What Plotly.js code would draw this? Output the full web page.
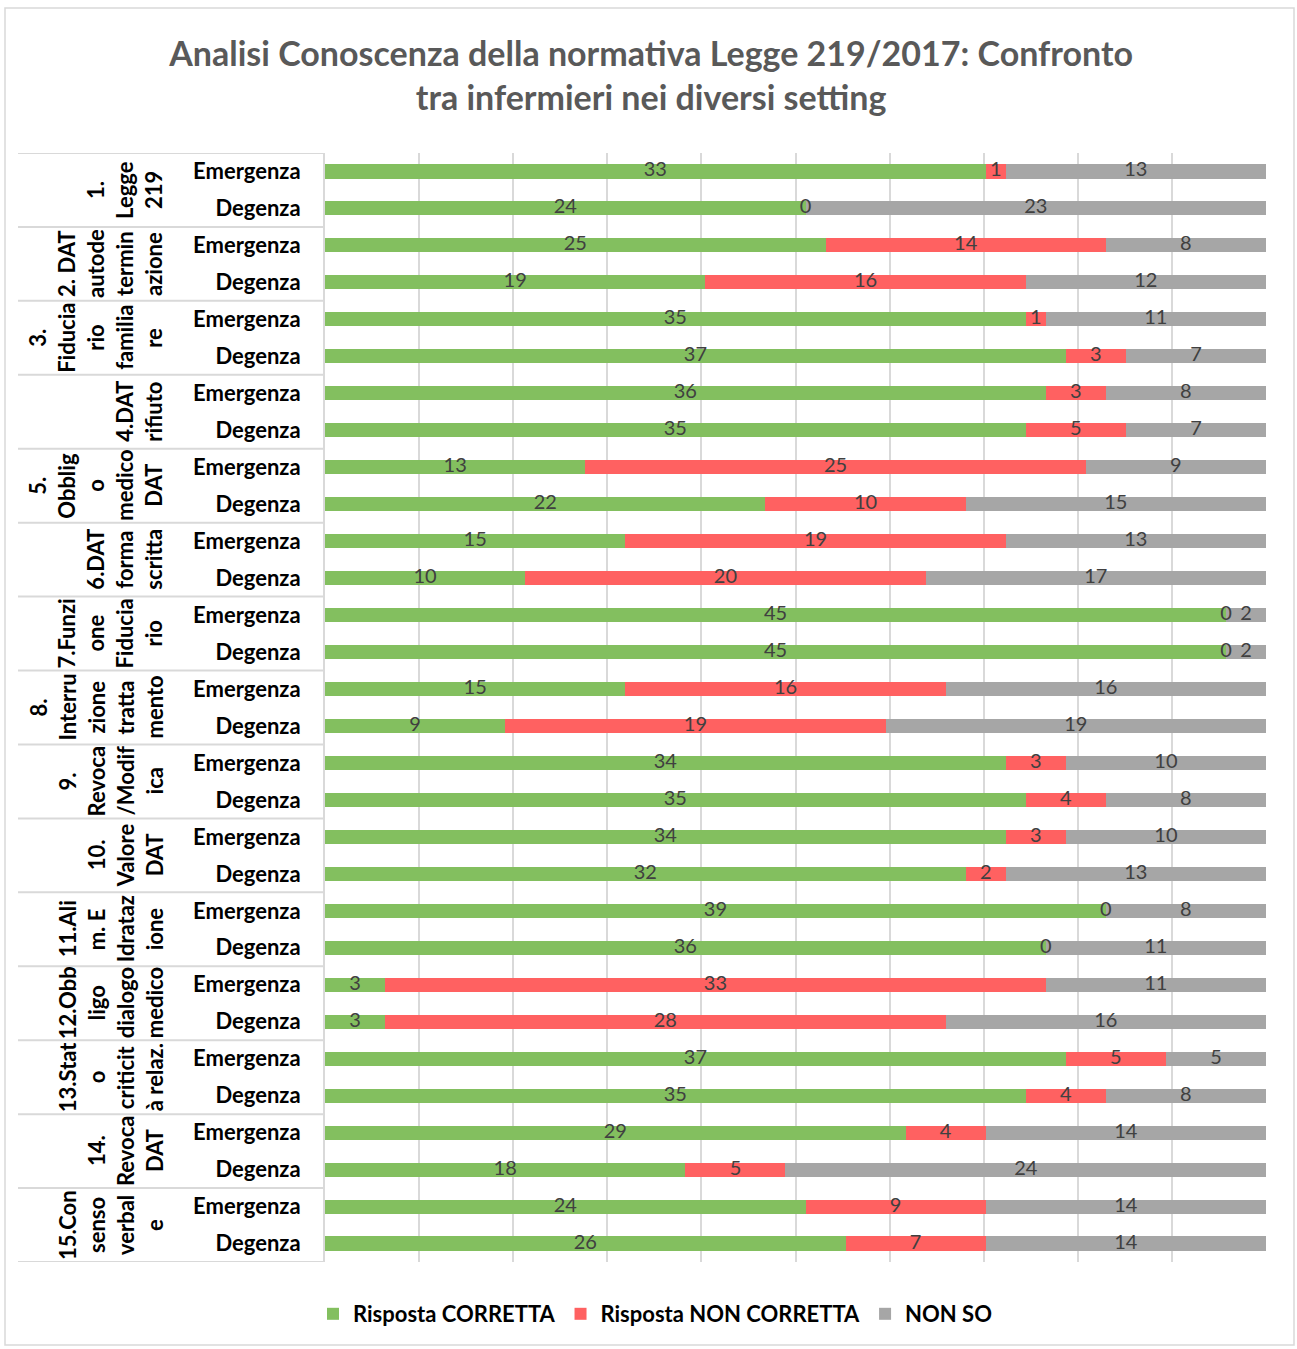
<!DOCTYPE html>
<html>
<head>
<meta charset="utf-8">
<script src="https://cdn.plot.ly/plotly-3.0.1.min.js"></script>
<style>
  html, body { margin: 0; padding: 0; background: #ffffff; }
  #chart { width: 1297px; height: 1349px; }
</style>
</head>
<body>
<div id="chart"></div>
<script>
// ---- Data ----
const groupLines = [
  ["1.", "Legge", "219"],
  ["2. DAT", "autode", "termin", "azione"],
  ["3.", "Fiducia", "rio", "familia", "re"],
  ["4.DAT", "rifiuto"],
  ["5.", "Obblig", "o", "medico", "DAT"],
  ["6.DAT", "forma", "scritta"],
  ["7.Funzi", "one", "Fiducia", "rio"],
  ["8.", "Interru", "zione", "tratta", "mento"],
  ["9.", "Revoca", "/Modif", "ica"],
  ["10.", "Valore", "DAT"],
  ["11.Ali", "m. E", "Idrataz", "ione"],
  ["12.Obb", "ligo", "dialogo", "medico"],
  ["13.Stat", "o", "criticit", "à relaz."],
  ["14.", "Revoca", "DAT"],
  ["15.Con", "senso", "verbal", "e"]
];
const settings = ["Emergenza", "Degenza"];
const seriesNames = ["Risposta CORRETTA", "Risposta NON CORRETTA", "NON SO"];
// one value per row: group 1 Emergenza, group 1 Degenza, group 2 Emergenza, ...
const corretta = [33,24, 25,19, 35,37, 36,35, 13,22, 15,10, 45,45, 15,9, 34,35, 34,32, 39,36, 3,3, 37,35, 29,18, 24,26];
const nonCorretta = [1,0, 14,16, 1,3, 3,5, 25,10, 19,20, 0,0, 16,19, 3,4, 3,2, 0,0, 33,28, 5,4, 4,5, 9,7];
const nonSo = [13,23, 8,12, 11,7, 8,7, 9,15, 13,17, 2,2, 16,19, 10,8, 10,13, 8,11, 11,16, 5,8, 14,24, 14,14];

// ---- Styles ----
const colors = ["#83BF5F", "#FF6161", "#A6A6A6"];
const FONT = "Lato, 'Open Sans', sans-serif";
const W = 1297, H = 1349;
const M = {l: 325, r: 31, t: 153, b: 87};
const PW = W - M.l - M.r, PH = H - M.t - M.b;
const pxX = px => (px - M.l) / PW;
const pxY = py => (H - M.b - py) / PH;

// ---- Build rows ----
const keys = [], tickText = [];
groupLines.forEach((g, gi) => settings.forEach(s => { keys.push((gi + 1) + "|" + s); tickText.push(s); }));
const series = [corretta, nonCorretta, nonSo];
const totals = keys.map((k, i) => series.reduce((a, s) => a + s[i], 0));
const maxTotal = Math.max(...totals);

const traces = [];
series.forEach((vals, si) => {
  traces.push({
    type: "bar", orientation: "h", name: seriesNames[si],
    y: keys, x: vals,
    marker: {color: colors[si]},
    width: 0.38,
    hoverinfo: "skip"
  });
});
// data labels through the axes
series.forEach((vals, si) => {
  const xs = vals.map((v, i) => {
    let start = 0; for (let k = 0; k < si; k++) start += series[k][i];
    return start + v / 2;
  });
  traces.push({
    type: "scatter", mode: "text", y: keys, x: xs, text: vals.map(String),
    textposition: "middle center",
    textfont: {family: FONT, size: 20, color: "#404040"},
    showlegend: false, hoverinfo: "skip", cliponaxis: false
  });
});

// ---- Group labels & table lines ----
const annotations = [];
const shapes = [];
const lastLineX = 154, lineGap = 29;
groupLines.forEach((lines, gi) => {
  const n = lines.length;
  lines.forEach((ln, li) => {
    annotations.push({
      xref: "paper", yref: "y", x: 0, y: gi * 2 + 0.5,
      xshift: (lastLineX - (n - 1 - li) * lineGap) - M.l,
      text: "<b>" + ln + "</b>", showarrow: false, textangle: -90,
      xanchor: "center", yanchor: "middle",
      font: {family: FONT, size: 22, color: "#000000"}
    });
  });
});
for (let b = 0; b <= groupLines.length; b++) {
  shapes.push({type: "line", xref: "paper", yref: "y", x0: pxX(18), x1: 0,
    y0: b * 2 - 0.5, y1: b * 2 - 0.5, line: {color: "#D9D9D9", width: 2}});
}
// outer chart border
shapes.push({type: "rect", xref: "paper", yref: "paper",
  x0: pxX(5), x1: pxX(1294), y0: pxY(1345), y1: pxY(8),
  line: {color: "#D9D9D9", width: 1.5}, fillcolor: "rgba(0,0,0,0)", layer: "below"});

const layout = {
  width: W, height: H,
  margin: M,
  paper_bgcolor: "#ffffff", plot_bgcolor: "#ffffff",
  barmode: "stack",
  font: {family: FONT, color: "#000000"},
  title: {
    text: "<b>Analisi Conoscenza della normativa Legge 219/2017: Confronto<br>tra infermieri nei diversi setting</b>",
    x: 0.502, xanchor: "center", xref: "container",
    y: 1 - 66 / H, yanchor: "middle", yref: "container",
    font: {family: FONT, size: 34, color: "#595959"}
  },
  xaxis: {
    range: [0, maxTotal], tick0: 0, dtick: maxTotal / 10,
    showticklabels: false, ticks: "",
    showgrid: true, gridcolor: "#D9D9D9", gridwidth: 2,
    zeroline: false, showline: false, fixedrange: true
  },
  yaxis: {
    type: "category", categoryorder: "array", categoryarray: keys,
    tickvals: keys, ticktext: tickText,
    autorange: false, range: [keys.length - 0.5, -0.5],
    showgrid: false, zeroline: false,
    showline: true, linecolor: "#D9D9D9", linewidth: 2,
    ticks: "", ticklabelstandoff: 18,
    tickfont: {family: FONT, size: 22, color: "#000000", weight: "bold"},
    fixedrange: true
  },
  legend: {
    orientation: "h", traceorder: "normal",
    x: pxX(655), xanchor: "center", y: pxY(1314), yanchor: "middle",
    font: {family: FONT, size: 22, color: "#000000", weight: "bold"},
    itemclick: false, itemdoubleclick: false
  },
  annotations: annotations,
  shapes: shapes,
  showlegend: true
};

Plotly.newPlot("chart", traces, layout, {displayModeBar: false, staticPlot: true});
</script>
</body>
</html>
